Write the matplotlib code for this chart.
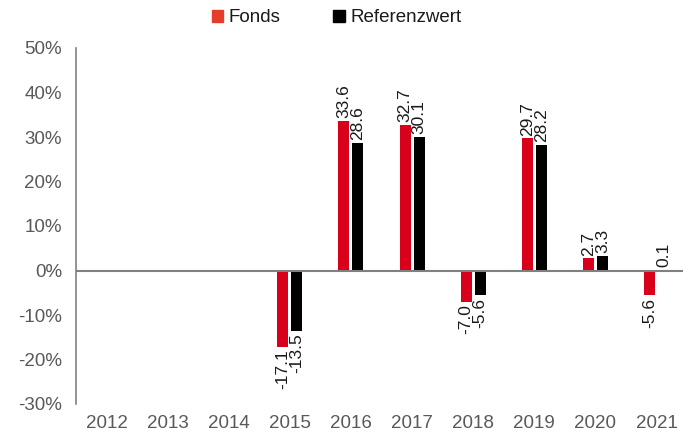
import numpy as np
import matplotlib.pyplot as plt
from matplotlib.patches import Patch

plt.rcParams['font.family'] = ['Liberation Sans', 'DejaVu Sans']

# data (percent per calendar year)
years = ["2012", "2013", "2014", "2015", "2016", "2017", "2018", "2019", "2020", "2021"]
fonds = [np.nan, np.nan, np.nan, -17.1, 33.6, 32.7, -7.0, 29.7, 2.7, -5.6]
referenz = [np.nan, np.nan, np.nan, -13.5, 28.6, 30.1, -5.6, 28.2, 3.3, 0.1]
y_ticks = [-30, -20, -10, 0, 10, 20, 30, 40, 50]

red = "#d9001b"
black = "#000000"
grey = "#595959"

fig = plt.figure(figsize=(6.83, 4.37), dpi=100)
ax = fig.add_axes([76 / 683, 1 - 404 / 437, 611 / 683, 356 / 437])

x = np.arange(len(years))
w = 0.18
off = 0.115
ax.bar(x - off, fonds, w, color=red)
ax.bar(x + off, referenz, w, color=black)


def label(xs, vals):
    for xi, v in zip(xs, vals):
        if np.isnan(v):
            continue
        if v >= 0:
            ax.annotate(f"{v:.1f}", (xi, v), xytext=(0, 2), textcoords="offset points",
                        rotation=90, ha="center", va="bottom", fontsize=12.5, color="#1a1a1a")
        else:
            ax.annotate(f"{v:.1f}", (xi, v), xytext=(0, -2), textcoords="offset points",
                        rotation=90, ha="center", va="top", fontsize=12.5, color="#1a1a1a")


label(x - off, fonds)
label(x + off, referenz)

ax.set_xlim(-0.5, len(years) - 0.5)
ax.set_ylim(-30, 50)
ax.set_yticks(y_ticks)
ax.set_yticklabels([f"{t}%" for t in y_ticks])
ax.set_xticks(x)
ax.set_xticklabels(years)
ax.tick_params(axis="both", length=0, labelsize=13.5, labelcolor=grey)
ax.tick_params(axis="x", pad=8)
ax.tick_params(axis="y", pad=10)

for s in ["top", "right", "bottom"]:
    ax.spines[s].set_visible(False)
ax.spines["left"].set_color("#808080")
ax.spines["left"].set_linewidth(1.2)
ax.axhline(0, color="#808080", linewidth=1.5, zorder=3)

handles = [Patch(color="#e63c2a", label="Fonds"), Patch(color=black, label="Referenzwert")]
fig.legend(handles=handles, loc="center", bbox_to_anchor=(0.493, 1 - 18 / 437), ncol=2,
           frameon=False, fontsize=13.5, handlelength=0.6, handleheight=0.6,
           handletextpad=0.3, columnspacing=2.8, labelcolor="#1a1a1a")

fig.savefig("out.png", dpi=100)
